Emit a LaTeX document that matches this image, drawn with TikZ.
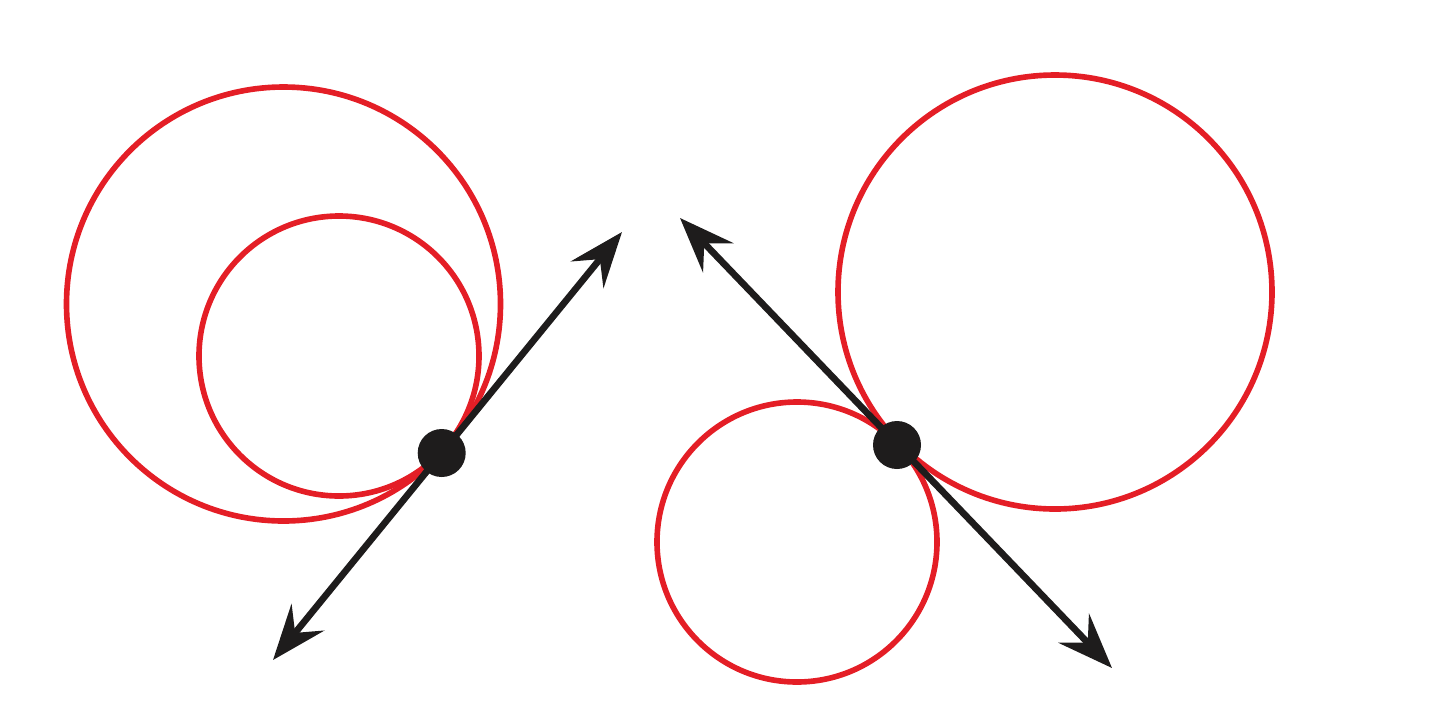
\documentclass[tikz,border=0pt]{standalone}
\usetikzlibrary{arrows.meta}
\definecolor{cred}{RGB}{228,30,38}
\definecolor{cblk}{RGB}{30,28,28}
\tikzset{
  circ/.style={draw=cred, line width=1.6pt},
  tline/.style={draw=cblk, line width=1.9pt,
    {Stealth[length=5.5mm,width=4.2mm,inset=2mm]}-{Stealth[length=5.5mm,width=4.2mm,inset=2mm]}},
  pdot/.style={circle, fill=cblk, inner sep=0pt, minimum size=4.8mm}
}
\begin{document}
\begin{tikzpicture}
\useasboundingbox (0,0) rectangle (14.4,7);
% left figure
\draw[circ] (2.835,3.96) circle (2.17);
\draw[circ] (3.39,3.44) circle (1.40);
\coordinate (l1) at (2.73,0.40);
\coordinate (l2) at (6.22,4.68);
\draw[tline] (l1) -- (l2);
\node[pdot] (p1) at (4.417,2.47) {};
% right figure
\draw[circ] (10.55,4.08) circle (2.17);
\draw[circ] (7.97,1.58) circle (1.40);
\coordinate (r1) at (6.80,4.82);
\coordinate (r2) at (11.12,0.32);
\draw[tline] (r1) -- (r2);
\node[pdot] (p2) at (8.97,2.55) {};
\end{tikzpicture}
\end{document}
